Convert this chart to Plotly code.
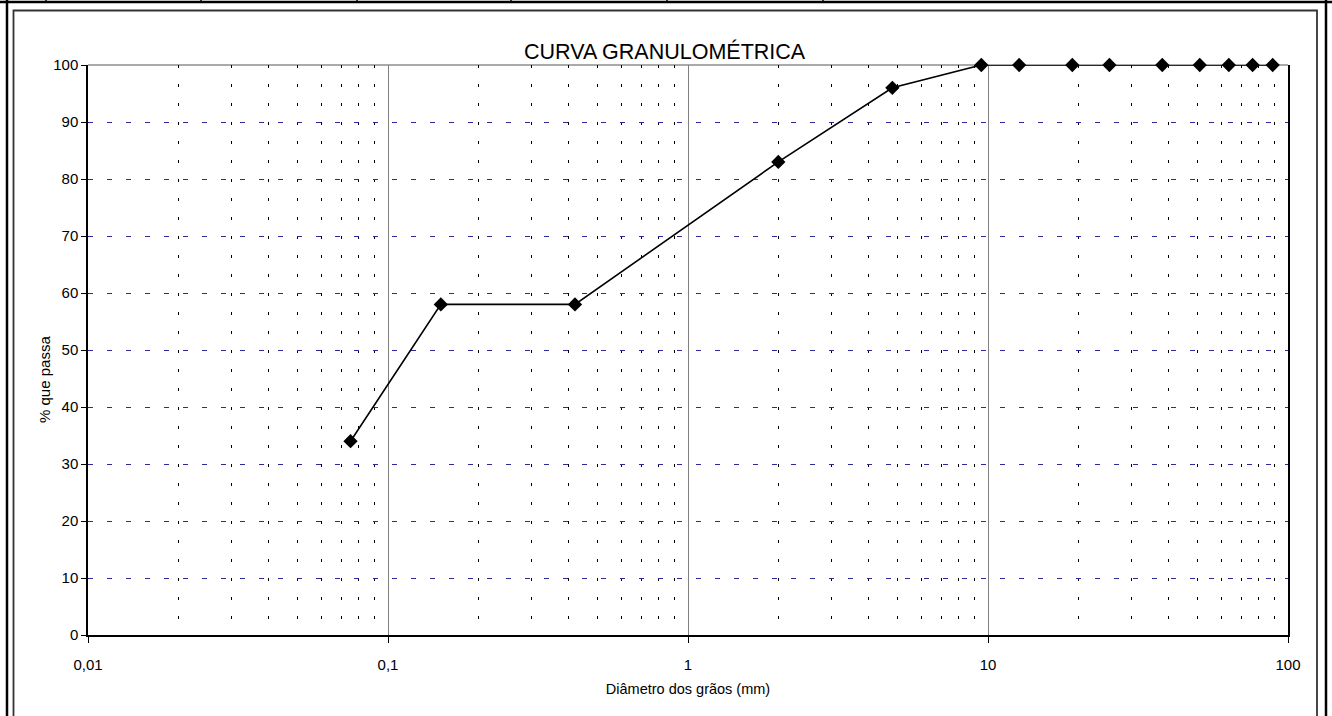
import plotly.graph_objects as go

# ---- data ----
diametro_mm = [0.075, 0.15, 0.42, 2.0, 4.8, 9.5, 12.7, 19.1, 25.4, 38.1, 50.8, 63.5, 76.2, 88.9]
pct_passa = [34, 58, 58, 83, 96, 100, 100, 100, 100, 100, 100, 100, 100, 100]

x_tickvals = [0.01, 0.1, 1, 10, 100]
x_ticktext = ["0,01", "0,1", "1", "10", "100"]
y_tickvals = [0, 10, 20, 30, 40, 50, 60, 70, 80, 90, 100]

titulo = "CURVA GRANULOMÉTRICA"
titulo_x = "Diâmetro dos grãos (mm)"
titulo_y = "% que passa"

# ---- layout geometry (pixels) ----
W, H = 1332, 716
L, R, T, B = 88, 1288, 65, 635
PW, PH = R - L, B - T


def px(xp):
    return (xp - L) / PW


def py(yp):
    return (B - yp) / PH


FONT = "Liberation Sans, Arial, sans-serif"

fig = go.Figure()
fig.add_trace(go.Scatter(
    x=diametro_mm, y=pct_passa, mode="lines+markers",
    line=dict(color="black", width=1.6),
    marker=dict(symbol="diamond", size=11, color="black"),
    showlegend=False, cliponaxis=False,
))

shapes = []
# plot-area top border
shapes.append(dict(type="line", xref="paper", yref="paper", x0=0, x1=1, y0=1, y1=1,
                   line=dict(color="#555555", width=1), layer="below"))
# outer frame (thick)
shapes.append(dict(type="line", xref="paper", yref="paper", x0=px(0), x1=px(W), y0=py(2), y1=py(2),
                   line=dict(color="black", width=2.5)))
shapes.append(dict(type="line", xref="paper", yref="paper", x0=px(7), x1=px(7), y0=py(0), y1=py(H + 5),
                   line=dict(color="black", width=2.5)))
shapes.append(dict(type="line", xref="paper", yref="paper", x0=px(1326), x1=px(1326), y0=py(0), y1=py(H + 5),
                   line=dict(color="black", width=2.5)))
for xd in [46, 201, 357, 511, 667, 823]:
    shapes.append(dict(type="line", xref="paper", yref="paper", x0=px(xd), x1=px(xd), y0=py(0), y1=py(3),
                       line=dict(color="black", width=1.5)))
# inner frame
shapes.append(dict(type="rect", xref="paper", yref="paper", x0=px(13.5), x1=px(1317), y0=py(10.5), y1=py(H + 20),
                   line=dict(color="#333333", width=1.8)))

fig.update_layout(
    width=W, height=H,
    margin=dict(l=L, r=W - R, t=T, b=H - B),
    paper_bgcolor="white", plot_bgcolor="white",
    font=dict(family=FONT, color="black", size=15),
    shapes=shapes,
    annotations=[
        dict(text=titulo, xref="paper", yref="paper", x=px(665), y=py(52), showarrow=False,
             xanchor="center", yanchor="middle", font=dict(size=21.5, family=FONT)),
        dict(text=titulo_y, xref="paper", yref="paper", x=px(45), y=py(380), showarrow=False,
             textangle=-90, xanchor="center", yanchor="middle", font=dict(size=15, family=FONT)),
    ],
)

fig.update_xaxes(
    type="log", range=[-2, 2],
    tickvals=x_tickvals, ticktext=x_ticktext,
    ticks="outside", ticklen=6, tickcolor="black", tickwidth=1,
    ticklabelstandoff=9,
    showline=True, linecolor="black", linewidth=2,
    showgrid=True, gridcolor="#808080", gridwidth=1,
    minor=dict(dtick="D1", showgrid=True, gridcolor="black", gridwidth=1, griddash="3px,16px", ticks=""),
    zeroline=False,
    title=dict(text=titulo_x, font=dict(size=14.5), standoff=12),
    tickfont=dict(size=15),
)
fig.update_yaxes(
    range=[0, 100], tickvals=y_tickvals,
    ticks="outside", ticklen=5, tickcolor="black", tickwidth=1,
    showline=True, linecolor="black", linewidth=1.5, mirror=True,
    showgrid=True, gridcolor="#2a2a9a", gridwidth=1, griddash="5px,14px",
    zeroline=False,
    tickfont=dict(size=15),
)

fig.write_html("out.html")
